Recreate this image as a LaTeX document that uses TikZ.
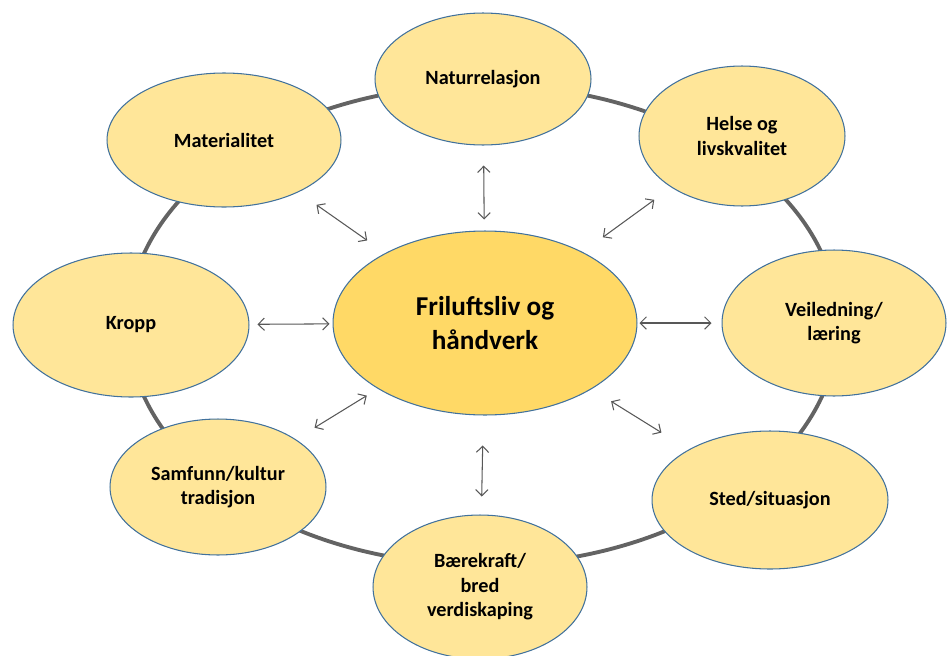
\documentclass[tikz,border=0pt]{standalone}
\usepackage{fontspec}
\setmainfont{Carlito}
\usepackage{tikz}
\usetikzlibrary{arrows,arrows.meta,shapes.geometric}
\definecolor{ringgray}{RGB}{110,110,110}
\definecolor{rimblue}{RGB}{65,113,156}
\definecolor{lightyellow}{RGB}{255,230,153}
\definecolor{darkyellow}{RGB}{255,217,102}
\begin{document}
\begin{tikzpicture}[x=0.02cm,y=-0.02cm]
						\tikzstyle{topic}=[ellipse,draw=rimblue,line width=0.6pt,fill=lightyellow,inner sep=0pt,align=center,font=\fontsize{11.5}{14}\selectfont\bfseries]
						\tikzstyle{link}=[<->,>={Straight Barb[length=3.5pt,width=7pt]},draw=ringgray!80!black,line width=0.6pt]
						\useasboundingbox (0,0) rectangle (947,656);
						\draw[ringgray!90!black,line width=2.2pt] (483,325) ellipse [x radius=355,y radius=240];
						\node[topic,fill=darkyellow,minimum width=6.08cm,minimum height=3.68cm,font=\fontsize{15.5}{19.5}\selectfont\bfseries] (c) at (485,323) {Friluftsliv og\\håndverk};
						\node[topic,minimum width=4.32cm,minimum height=2.64cm] (1) at (483,79) {Naturrelasjon};
						\node[topic,minimum width=4.12cm,minimum height=2.8cm] (2) at (742,136) {Helse og\\livskvalitet};
						\node[topic,minimum width=4.48cm,minimum height=2.92cm] (3) at (834,323) {Veiledning/\\læring};
						\node[topic,minimum width=4.72cm,minimum height=2.76cm] (4) at (770,500) {Sted/situasjon};
						\node[topic,minimum width=4.28cm,minimum height=2.88cm] (5) at (480,587) {Bærekraft/\\bred\\verdiskaping};
						\node[topic,minimum width=4.32cm,minimum height=2.72cm] (6) at (218,487) {Samfunn/kultur\\tradisjon};
						\node[topic,minimum width=4.72cm,minimum height=2.88cm] (7) at (131,325) {Kropp};
						\node[topic,minimum width=4.68cm,minimum height=2.68cm] (8) at (224,140) {Materialitet};
						\draw[link,shorten <=0.22cm,shorten >=0.4cm] (c) -- (1);
						\draw[link,shorten <=0.5cm,shorten >=0.42cm] (c) -- (2);
						\draw[link,shorten <=0.04cm,shorten >=0.2cm] (c) -- (3);
						\draw[link,shorten <=0.46cm,shorten >=0.64cm] (c) -- (4);
						\draw[link,shorten <=0.6cm,shorten >=0.36cm] (c) -- (5);
						\draw[link,shorten <=0.26cm,shorten >=0.44cm] (c) -- (6);
						\draw[link,shorten <=0.06cm,shorten >=0.16cm] (c) -- (7);
						\draw[link,shorten <=0.44cm,shorten >=0.44cm] (c) -- (8);
						\end{tikzpicture}
\end{document}
